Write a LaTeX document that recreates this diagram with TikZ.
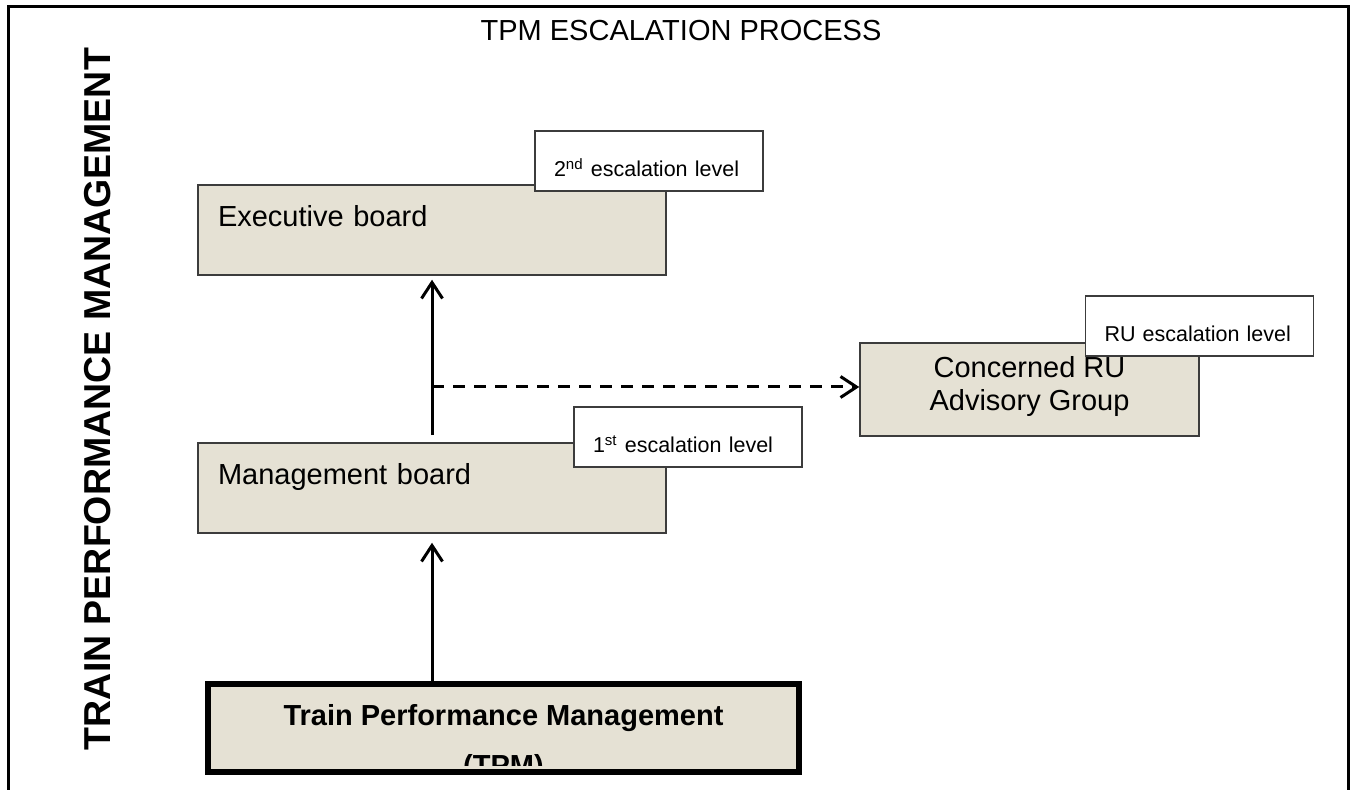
\documentclass[tikz,border=0pt]{standalone}
\usepackage{fontspec}
\setmainfont{Liberation Sans}
\usetikzlibrary{arrows.meta}

\definecolor{boardfill}{RGB}{229,225,212}
\definecolor{boardline}{RGB}{60,60,60}

\newcommand\boardwidth{234pt}
\newcommand\levelwidth{114pt}
\newcommand\bodysize{\fontsize{14.5}{19}\selectfont}
\newcommand\levelsize{\fontsize{10.75}{13}\selectfont}

\tikzset{
    boardbase/.style={draw=boardline,line width=0.75pt,fill=boardfill,font=\bodysize},
    board/.style={boardbase,minimum width=\boardwidth,minimum height=45pt,text width=214pt,
        inner xsep=10pt,align=left,text height=10.5pt,text depth=13.5pt},
    groupboard/.style={boardbase,font=\fontsize{14.5}{16.5}\selectfont,minimum width=169.5pt,
        minimum height=46.5pt,align=center,text height=21pt,text depth=0pt},
    tpmboard/.style={draw=black,line width=3pt,fill=boardfill,minimum width=295.5pt,minimum height=44pt},
    level/.style={draw=boardline,line width=0.75pt,fill=white,minimum width=\levelwidth,
        minimum height=30pt,text width=95pt,inner xsep=9.5pt,align=left,font=\levelsize,
        text height=16pt,text depth=0pt},
    flow/.style={line width=1.5pt,-{Straight Barb[length=8pt,width=10.5pt]}},
}

\begin{document}
\begin{tikzpicture}[x=0.5pt,y=-0.5pt]
    \useasboundingbox (0,0) rectangle (1354,790);
    \clip (0,0) rectangle (1354,790);
    \draw[line width=1.5pt] (8,800) -- (8,7) -- (1348,7) -- (1348,800);

    \node[font=\fontsize{14.5}{17}\selectfont,anchor=base] (title) at (681,41) {TPM ESCALATION PROCESS};
    \node[font=\fontsize{18.75}{22}\selectfont\bfseries,rotate=90,anchor=base] (side) at (110,399) {TRAIN PERFORMANCE MANAGEMENT};

    \node[board] (exec) at (432,230) {Executive board};
    \node[board] (mgmt) at (432,488) {Management board};
    \node[groupboard] (ru) at (1029.5,389.5) {Concerned RU\\Advisory Group};

    \node[tpmboard] (tpm) at (503.5,728) {};
    \begin{scope}
        \clip ([yshift=5pt]tpm.south west) rectangle (tpm.north east);
        \node[font=\fontsize{14.5}{17.4}\selectfont\bfseries,align=center,anchor=base] (tpmtext)
            at ([yshift=-23.5pt]tpm.center) {Train Performance Management\\[7.6pt](TPM)};
    \end{scope}

    \node[level] (lvltwo) at (649,161) {2\textsuperscript{nd} escalation level};
    \node[level] (lvlone) at (688,437) {1\textsuperscript{st} escalation level};
    \node[level] (lvlru) at (1199.5,326) {RU escalation level};

    \coordinate (fork) at (432,387);
    \draw[flow,shorten >=4.5pt] (tpm.north -| mgmt.south) -- (mgmt.south);
    \draw[flow,shorten <=3.5pt,shorten >=2pt] (mgmt.north) -- (exec.south);
    \draw[flow,dash pattern=on 6pt off 4.5pt] (fork) -- (fork -| ru.west);
\end{tikzpicture}
\end{document}
